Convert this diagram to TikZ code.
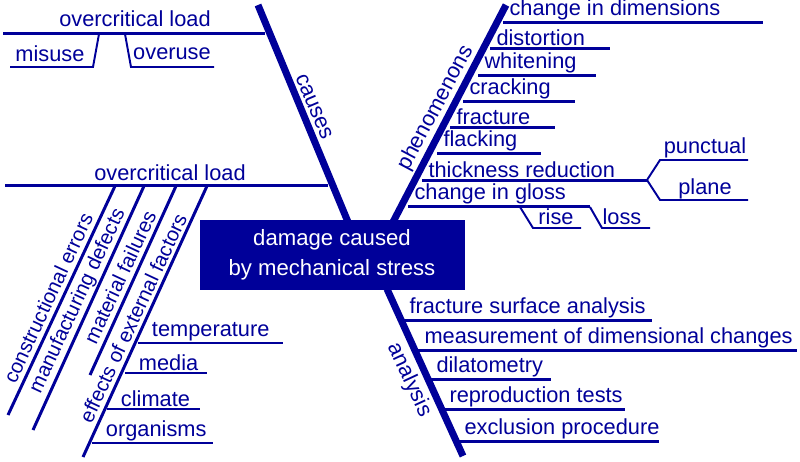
\documentclass[tikz,border=0pt]{standalone}
\usepackage{fontspec}
\setmainfont{Liberation Sans}
\definecolor{navy}{HTML}{000099}
\begin{document}
\begin{tikzpicture}[x=0.02cm,y=-0.02cm,
    every node/.style={text=navy,font=\fontsize{12.4}{15}\selectfont,inner sep=0pt},
    spine/.style={navy,line width=4pt},
    branch/.style={navy,line width=1.7pt},
    twig/.style={navy,line width=1.1pt},
    lbl/.style={anchor=south west,yshift=0.5pt},
    slant/.style={rotate=65,font=\fontsize{11.6}{14}\selectfont}]
  \useasboundingbox (0,0) rectangle (800,461);
  % centre box
  \node[fill=navy,minimum width=265*0.02cm,minimum height=70*0.02cm,text=white,align=center,
        font=\fontsize{12.6}{17}\selectfont] (box) at (332,255) {damage caused\\by mechanical stress};
  % spines
  \draw[spine] (258,5) -- (348,222);
  \draw[spine] (506,5) -- (393,222);
  \draw[spine] (387,289) -- (463,456);
  \node[rotate=-67] (causes) at (314,107) {causes};
  \node[rotate=62] (phen) at (436,108) {phenomenons};
  \node[rotate=-65] (anal) at (409,380) {analysis};
  % causes: upper load
  \draw[branch] (3,33) -- (265,33);
  \node (ol1) at (135,19) {overcritical load};
  \draw[twig] (99,34) -- (93,67) -- (10,67);
  \draw[twig] (125,34) -- (131,67) -- (214,67);
  \node (misuse) at (50,54) {misuse};
  \node (overuse) at (172,54) {overuse};
  % causes: lower load
  \draw[branch] (5,185) -- (328,185);
  \node (ol2) at (170,173) {overcritical load};
  \foreach \a/\b/\e/\c/\d/\t in {115/8/415/48/298/constructional errors,
      144/33/430/78/301/manufacturing defects,
      176/90/375/120/277/material failures,
      207/83/457/133/318/effects of external factors}{
    \draw[branch] (\a,186) -- (\b,\e);
    \node[slant] at (\c,\d) {\t};
  }
  \foreach \y/\l/\r/\t in {343/138/283/temperature,373/125/207/media,
      409/107/200/climate,443/92/213/organisms}
    \draw[twig] (\l,\y) -- (\r,\y) node[lbl] at (\l+13,\y) {\t};
  % phenomenons
  \foreach \y/\l/\r/\t in {22/503/763/change in dimensions,48/490/610/distortion,
      75/478/596/whitening,101/463/575/cracking,127/450/555/fracture,
      153/437/541/flacking,180/422/647/thickness reduction,206/408/590/change in gloss}
    \draw[branch] (\l,\y) -- (\r,\y) node[lbl] at (\l+5,\y) {\t};
  \draw[twig] (647,180) -- (660,160) -- (748,160);
  \draw[twig] (647,180) -- (660,200) -- (748,200);
  \node (punct) at (705,148) {punctual};
  \node (plane) at (705,189) {plane};
  \draw[twig] (520,207) -- (533,228) -- (581,228);
  \draw[twig] (590,207) -- (602,228) -- (650,228);
  \node (rise) at (556,217) {rise};
  \node (loss) at (622,217) {loss};
  % analysis
  \foreach \y/\l/\r/\t in {320/403/652/fracture surface analysis,
      350/418/797/measurement of dimensional changes,379/430/551/dilatometry,
      409/443/625/reproduction tests,441/458/659/exclusion procedure}
    \draw[branch] (\l,\y) -- (\r,\y) node[lbl] at (\l+5,\y) {\t};
\end{tikzpicture}
\end{document}
